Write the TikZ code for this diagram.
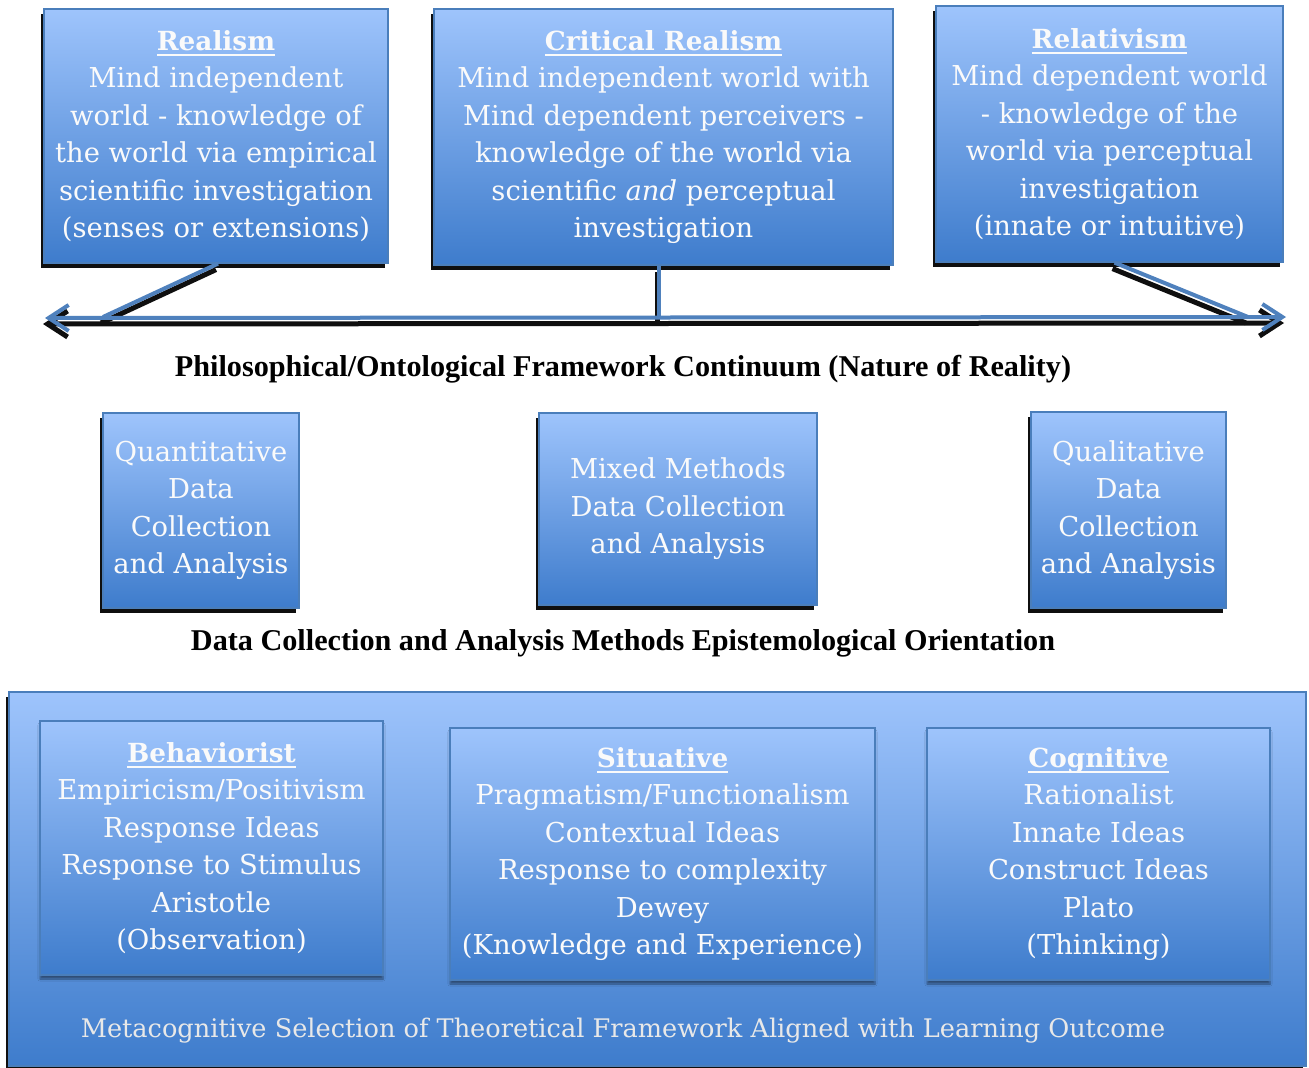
\documentclass[tikz,border=0pt]{standalone}
\usepackage{fontspec}
\setmainfont{DejaVu Serif}
\newfontfamily\lblfont{Liberation Serif}
\usetikzlibrary{shadows,shadows.blur,arrows.meta}

\definecolor{boxtop}{RGB}{158,196,252}
\definecolor{boxbot}{RGB}{62,124,204}
\definecolor{boxedge}{RGB}{74,126,187}
\definecolor{linkblue}{RGB}{79,129,189}
\definecolor{paneltext}{RGB}{250,250,250}
\definecolor{foottext}{RGB}{232,232,232}

\newcommand\bodyfont{\fontsize{27.4}{37.5}\selectfont}
\newcommand\heading[1]{%
  \setbox0\hbox{\fontsize{26.3}{37.5}\selectfont\bfseries #1}%
  \rlap{\rule[-6pt]{\wd0}{2.6pt}}\box0}

\tikzset{
  panel/.style={rectangle, draw=boxedge, line width=1.2pt,
    top color=boxtop, bottom color=boxbot, text=paneltext,
    align=center, inner sep=0pt, font=\bodyfont},
  hardshadow/.style={general shadow={fill=black!94,
    shadow xshift=-3pt, shadow yshift=-5pt}},
  softshadow/.style={blur shadow={shadow xshift=0pt, shadow yshift=-4pt,
    shadow blur steps=6, shadow opacity=45}},
  caption/.style={font=\lblfont\bfseries\fontsize{30.2}{32}\selectfont, text=black},
  link/.style={draw=linkblue, line width=4pt},
  linkshade/.style={draw=black!94, line width=5pt,
    transform canvas={xshift=-2pt, yshift=-6pt}},
  barbs/.style={{Straight Barb[length=20pt,width=26pt]}-{Straight Barb[length=20pt,width=26pt]}},
}

\begin{document}
\begin{tikzpicture}[x=1pt, y=-1pt]
\useasboundingbox (0,0) rectangle (1309,1068);
\fill[white] (0,0) rectangle (1309,1068);

% ---------- ontological continuum ----------
\coordinate (cl) at (45,318);
\coordinate (cr) at (1286,317);
\coordinate (realfoot) at (103,317);
\coordinate (critfoot) at (659,318);
\coordinate (relfoot) at (1248,317);

\node[panel, hardshadow, minimum width=344pt, minimum height=254pt] (realism) at (216,136)
  {\heading{Realism}\\ Mind independent\\ world - knowledge of\\ the world via empirical\\
   scientific investigation\\ (senses or extensions)};
\node[panel, hardshadow, minimum width=459pt, minimum height=256pt] (critical) at (663.5,137)
  {\heading{Critical Realism}\\ Mind independent world with\\ Mind dependent perceivers -\\
   knowledge of the world via\\ scientific \textit{and} perceptual\\ investigation};
\node[panel, hardshadow, minimum width=347pt, minimum height=256pt] (relativism) at (1109.5,134)
  {\heading{Relativism}\\ Mind dependent world\\ - knowledge of the\\ world via perceptual\\
   investigation\\ (innate or intuitive)};

% shadows of the connectors
\draw[linkshade, barbs] (cl) -- (cr);
\draw[linkshade] ([xshift=2pt]realism.south) -- (realfoot);
\draw[linkshade] ([xshift=-4.5pt]critical.south) -- (critfoot);
\draw[linkshade] ([xshift=5pt]relativism.south) -- (relfoot);
% connectors
\draw[link, barbs] (cl) -- (cr);
\draw[link] ([xshift=2pt]realism.south) -- (realfoot);
\draw[link] ([xshift=-4.5pt]critical.south) -- (critfoot);
\draw[link] ([xshift=5pt]relativism.south) -- (relfoot);

\node[caption] (ontology) at (623,369)
  {Philosophical/Ontological Framework Continuum (Nature of Reality)};

% ---------- methods ----------
\node[panel, hardshadow, minimum width=196pt, minimum height=195pt] (quant) at (201,510.5)
  {Quantitative\\ Data\\ Collection\\ and Analysis};
\node[panel, hardshadow, minimum width=278pt, minimum height=192pt] (mixed) at (678,509)
  {Mixed Methods\\ Data Collection\\ and Analysis};
\node[panel, hardshadow, minimum width=195pt, minimum height=196pt] (qual) at (1128.5,510)
  {Qualitative\\ Data\\ Collection\\ and Analysis};

\node[caption] (epistemology) at (623,643)
  {Data Collection and Analysis Methods Epistemological Orientation};

% ---------- learning theories ----------
\node[panel, hardshadow, minimum width=1297pt, minimum height=374pt] (frame) at (657.5,879) {};
\node[panel, softshadow, minimum width=343pt, minimum height=254pt] (behav) at (211.5,848)
  {\heading{Behaviorist}\\ Empiricism/Positivism\\ Response Ideas\\ Response to Stimulus\\
   Aristotle\\ (Observation)};
\node[panel, softshadow, minimum width=425pt, minimum height=252pt] (situ) at (662.5,854)
  {\heading{Situative}\\ Pragmatism/Functionalism\\ Contextual Ideas\\ Response to complexity\\
   Dewey\\ (Knowledge and Experience)};
\node[panel, softshadow, minimum width=343pt, minimum height=252pt] (cogn) at (1098.5,854)
  {\heading{Cognitive}\\ Rationalist\\ Innate Ideas\\ Construct Ideas\\ Plato\\ (Thinking)};

\node[text=foottext, font=\fontsize{25.6}{30}\selectfont] (outcome) at (623,1031)
  {Metacognitive Selection of Theoretical Framework Aligned with Learning Outcome};
\end{tikzpicture}
\end{document}
